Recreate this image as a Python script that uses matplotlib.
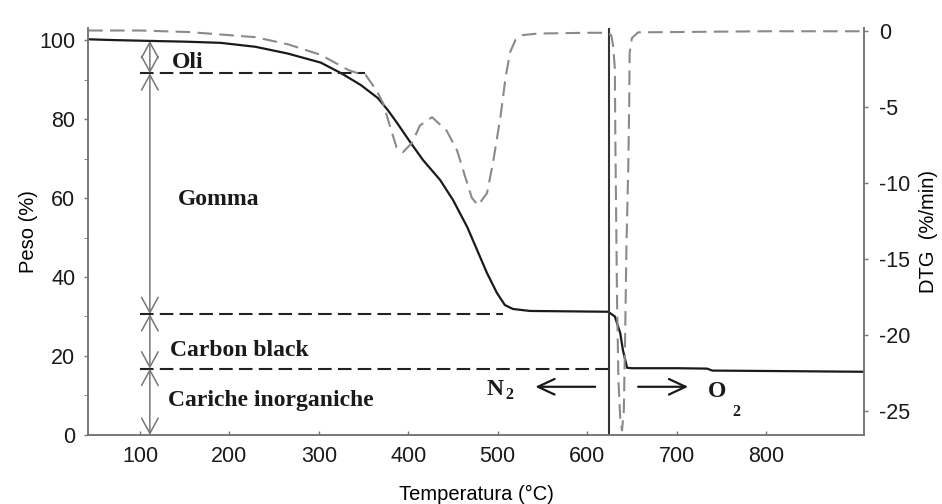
import matplotlib
matplotlib.use("Agg")
import matplotlib.pyplot as plt

# ---- data ----
temp_tga = [42, 70, 109, 150, 190, 229, 265, 302, 325, 347, 366, 377, 387.5, 402, 416.5, 435.5, 450,
            465.8, 477, 488, 499, 508, 517, 536, 580, 623.5, 631, 637, 640, 644.7, 650, 700, 734, 740, 800, 909]
peso = [100.2, 100.0, 99.8, 99.6, 99.3, 98.3, 96.6, 94.3, 91.6, 88.6, 85.3, 82.3, 79.0, 74.2, 69.6, 64.6, 59.5,
        52.7, 46.8, 41.0, 36.0, 32.9, 31.9, 31.4, 31.3, 31.2, 30.0, 25.8, 21.5, 17.0, 16.9, 16.9, 16.8, 16.3, 16.2, 16.0]

temp_dtg = [42, 100, 154, 190, 229, 265, 302, 333, 343, 352, 358, 365, 372, 380, 387, 394, 404, 413, 426.6,
            443, 454.6, 463.5, 471, 478, 488, 495, 503, 509, 514, 520, 528, 545, 600, 622, 627, 629, 631,
            631.5, 633.5, 635, 637, 639, 641, 642.5, 644, 646, 647, 647.5, 650, 657, 700, 800, 909]
dtg = [0.0, 0.0, -0.1, -0.26, -0.44, -0.9, -1.6, -2.6, -2.8, -2.9, -3.4, -4.0, -4.8, -6.4, -7.7, -8.0, -7.4, -6.25, -5.7,
       -6.6, -7.9, -9.6, -11.0, -11.5, -10.7, -8.6, -5.7, -3.0, -1.4, -0.6, -0.3, -0.2, -0.15, -0.15, -0.3, -1.0, -2.5,
       -7.0, -18.0, -23.0, -25.5, -26.3, -25.0, -20.0, -14.0, -9.0, -5.0, -1.5, -0.5, -0.12, -0.1, -0.05, -0.05]

level_oli = 91.6
level_gomma = 30.6
level_cb = 16.8
levels_end = [352, 506, 624]
arrow_x = 111
split_temp = 624.6

xticks = [100, 200, 300, 400, 500, 600, 700, 800]
yticks_left = [0, 20, 40, 60, 80, 100]
yticks_right = [0, -5, -10, -15, -20, -25]

# ---- figure ----
fig = plt.figure(figsize=(9.42, 5.04), dpi=100)
ax = fig.add_axes([0.0934, 0.137, 0.8238, 0.807])
ax2 = ax.twinx()

sans = "Liberation Sans"
serif = "Liberation Serif"
spine_c = "#777777"
ink = "#1a1a1a"

ax.set_xlim(41.8, 909.6)
ax.set_ylim(0, 103)
ax2.set_ylim(-26.6, 0.15)

# DTG dashed curve
ax2.plot(temp_dtg, dtg, color="#8a8a8a", lw=1.5, dashes=(7, 3.5))

# TGA solid
ax.plot(temp_tga, peso, color=ink, lw=1.6)

# horizontal dashed level lines
for lvl, xe in zip([level_oli, level_gomma, level_cb], levels_end):
    ax.plot([100, xe], [lvl, lvl], color="#222222", lw=1.5, dashes=(6.5, 3))

# vertical separation line
ax.axvline(split_temp, color="#333333", lw=1.5)

# vertical double arrows
segs = [(99.8, level_oli), (level_oli, level_gomma), (level_gomma, level_cb), (level_cb, 0)]
for a, b in segs:
    ax.annotate("", xy=(arrow_x, b), xytext=(arrow_x, a),
                arrowprops=dict(arrowstyle="<->,head_length=0.55,head_width=0.3",
                                color="#777777", lw=1.1, mutation_scale=20,
                                shrinkA=0, shrinkB=0))

# labels
tk = dict(fontfamily=serif, fontweight="bold", fontsize=17, color=ink, va="center", ha="left")
sub = dict(fontfamily=serif, fontweight="bold", fontsize=11.5, color=ink, va="center", ha="left")
ax.text(136, 94.4, "Oli", **tk)
ax.text(142, 59.5, "Gomma", **tk)
ax.text(133, 21.5, "Carbon black", **tk)
ax.text(131, 8.6, "Cariche inorganiche", **tk)

# N2 / O2
ax.text(488, 11.6, "N", **tk)
ax.text(508, 10.0, "2", **sub)
ax.text(735, 11.0, "O", **tk)
ax.text(762, 5.8, "2", **sub)
arr = dict(arrowstyle="->,head_length=0.6,head_width=0.28", color=ink,
           lw=1.6, mutation_scale=20, shrinkA=0, shrinkB=0)
ax.annotate("", xy=(542, 12.2), xytext=(609, 12.2), arrowprops=arr)
ax.annotate("", xy=(713, 12.2), xytext=(657, 12.2), arrowprops=arr)

# axes styling
ax.set_xticks(xticks)
ax.set_xticklabels([str(t) for t in xticks], fontfamily=sans, fontsize=15.5)
ax.set_yticks(yticks_left)
ax.set_yticklabels([str(t) for t in yticks_left], fontfamily=sans, fontsize=15.5)
ax.set_yticks([10, 30, 50, 70, 90], minor=True)
ax2.set_yticks(yticks_right)
ax2.set_yticklabels([str(t) for t in yticks_right], fontfamily=sans, fontsize=15.5)

for a in (ax, ax2):
    a.spines["top"].set_visible(False)
    for s in ("left", "right", "bottom"):
        a.spines[s].set_color(spine_c)
        a.spines[s].set_linewidth(1.2)
    a.tick_params(colors=spine_c, labelcolor=ink, length=3, width=1)
ax.tick_params(axis="y", which="minor", length=3, colors=spine_c)
ax.tick_params(axis="x", direction="in", pad=8)
ax.tick_params(axis="y", pad=6)
ax2.tick_params(axis="y", pad=8)

ax.set_xlabel("Temperatura (°C)", fontfamily=sans, fontsize=14.5, labelpad=13)
ax.set_ylabel("Peso (%)", fontfamily=sans, fontsize=14.5, labelpad=1)
ax2.set_ylabel("DTG  (%/min)", fontfamily=sans, fontsize=14.5, labelpad=6)

fig.savefig("out.png", dpi=100)
